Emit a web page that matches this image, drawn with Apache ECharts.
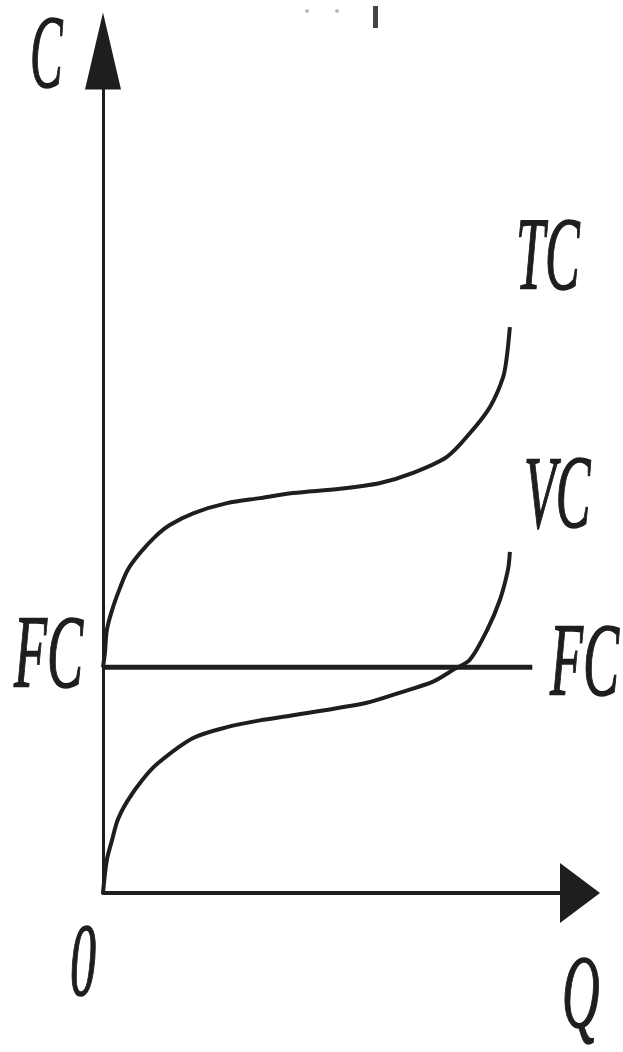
<!DOCTYPE html>
<html>
<head>
<meta charset="utf-8">
<script src="https://cdn.jsdelivr.net/npm/echarts@6/dist/echarts.min.js"></script>
<style>
  html, body { margin: 0; padding: 0; background: #fff; }
  #chart-container { width: 623px; height: 1052px; }
</style>
</head>
<body>
<div id="chart-container"></div>
<script>
// quantity Q (x) and cost C (y), arbitrary units
var fcLevel = 2.68;
var fcLine = [[0, fcLevel], [9.0, fcLevel]];

var tcQ = [0, 0.04, 0.08, 0.19, 0.36, 0.52, 0.78, 1.09, 1.4, 1.89, 2.6, 3.29, 3.98, 4.97, 5.81, 6.5, 7.21, 7.69, 8.11, 8.39, 8.47, 8.53];
var tcC = [2.68, 2.85, 3.12, 3.36, 3.63, 3.84, 4.04, 4.23, 4.37, 4.51, 4.63, 4.69, 4.75, 4.8, 4.87, 4.99, 5.18, 5.46, 5.77, 6.13, 6.39, 6.72];

var vcQ = [0, 0.08, 0.19, 0.31, 0.52, 0.82, 1.15, 1.89, 2.6, 3.29, 3.98, 5.53, 6.23, 6.92, 7.34, 7.69, 8.05, 8.32, 8.49, 8.53];
var vcC = [0, 0.39, 0.63, 0.87, 1.1, 1.34, 1.54, 1.84, 1.97, 2.05, 2.11, 2.26, 2.38, 2.51, 2.65, 2.77, 3.12, 3.48, 3.84, 4.05];

function pairs(xs, ys) {
  return xs.map(function (x, i) { return [x, ys[i]]; });
}

var dom = document.getElementById('chart-container');
var myChart = echarts.init(dom, null, { renderer: 'canvas' });

var ink = '#1e1e1e';

// the source picture is stretched vertically, so the letters are squeezed in x
function label(text, x, y, sx) {
  return {
    type: 'text',
    x: x,
    y: y,
    scaleX: sx || 0.5,
    style: {
      text: text,
      font: 'italic 104px "Liberation Serif"',
      fill: ink,
      stroke: ink,
      lineWidth: 1.5,
      textAlign: 'left',
      textVerticalAlign: 'middle'
    }
  };
}

var option = {
  animation: false,
  backgroundColor: '#fff',
  grid: { left: 103, right: 43, top: 51, bottom: 159 },
  xAxis: {
    type: 'value',
    min: 0,
    max: 10,
    axisLine: {
      onZero: false,
      symbol: ['none', 'triangle'],
      symbolSize: [60, 40],
      lineStyle: { color: ink, width: 4 }
    },
    axisTick: { show: false },
    axisLabel: { show: false },
    splitLine: { show: false }
  },
  yAxis: {
    type: 'value',
    min: 0,
    max: 10,
    axisLine: {
      show: true,
      onZero: false,
      symbol: ['none', 'triangle'],
      symbolSize: [36, 77],
      lineStyle: { color: ink, width: 3 }
    },
    axisTick: { show: false },
    axisLabel: { show: false },
    splitLine: { show: false }
  },
  series: [
    {
      name: 'FC',
      type: 'line',
      data: fcLine,
      symbol: 'none',
      lineStyle: { color: ink, width: 5 }
    },
    {
      name: 'TC',
      type: 'line',
      data: pairs(tcQ, tcC),
      symbol: 'none',
      smooth: 0.3,
      lineStyle: { color: ink, width: 4 }
    },
    {
      name: 'VC',
      type: 'line',
      data: pairs(vcQ, vcC),
      symbol: 'none',
      smooth: 0.3,
      lineStyle: { color: ink, width: 4 }
    }
  ],
  graphic: [
    label('C', 30, 60, 0.47),
    label('TC', 516, 262, 0.5),
    label('VC', 524, 500, 0.5),
    label('FC', 14, 660, 0.52),
    label('FC', 550, 668, 0.52),
    label('0', 70, 968, 0.5),
    label('Q', 562, 1000, 0.5),
    { type: 'circle', shape: { cx: 307, cy: 11, r: 2 }, style: { fill: '#bbb' } },
    { type: 'circle', shape: { cx: 337, cy: 11, r: 2 }, style: { fill: '#bbb' } },
    { type: 'rect', shape: { x: 373, y: 6, width: 5, height: 22 }, style: { fill: '#444' } }
  ]
};

if (option && typeof option === 'object') {
  myChart.setOption(option);
}

window.addEventListener('resize', myChart.resize);
</script>
</body>
</html>
